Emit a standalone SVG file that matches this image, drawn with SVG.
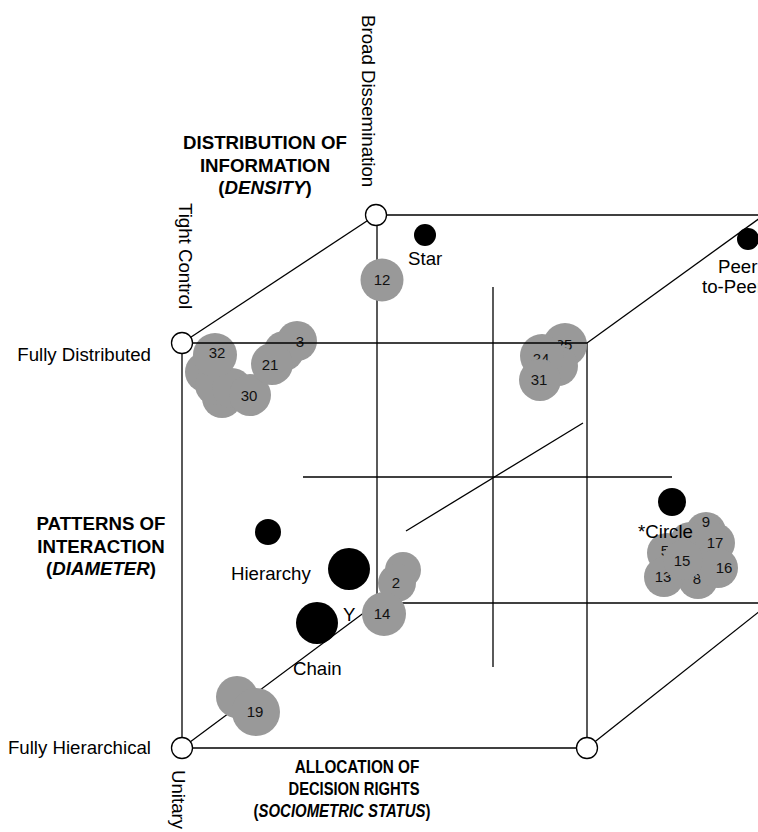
<svg xmlns="http://www.w3.org/2000/svg" width="758" height="832" viewBox="0 0 758 832">
<style>
.ln{stroke:#000;stroke-width:1.3;fill:none}
.oc{fill:#fff;stroke:#000;stroke-width:1.3}
.g{fill:#999}
.b{fill:#000}
.t{font-family:"Liberation Sans",Arial,sans-serif;font-size:18.67px;fill:#000}
.h{font-family:"Liberation Sans",Arial,sans-serif;font-size:18.67px;font-weight:bold;fill:#000;text-anchor:middle}
.n{font-family:"Liberation Sans",Arial,sans-serif;font-size:15px;fill:#111;text-anchor:middle}
</style>
<rect width="758" height="832" fill="#fff"/>
<g id="connectors">
<line class="ln" x1="182" y1="343" x2="182" y2="748"/>
<line class="ln" x1="182" y1="748" x2="587" y2="748"/>
<line class="ln" x1="587" y1="343" x2="587" y2="748"/>
<line class="ln" x1="376" y1="215" x2="770" y2="215"/>
<line class="ln" x1="377" y1="215" x2="377" y2="603"/>
<line class="ln" x1="377" y1="603" x2="770" y2="603"/>
<line class="ln" x1="182" y1="343" x2="376" y2="215"/>
<line class="ln" x1="587" y1="343" x2="764" y2="215"/>
<line class="ln" x1="182" y1="748" x2="377" y2="603"/>
<line class="ln" x1="587" y1="748" x2="770" y2="603"/>
<line class="ln" x1="493" y1="287" x2="493" y2="667"/>
<line class="ln" x1="303" y1="477" x2="672" y2="477"/>
<line class="ln" x1="406" y1="531" x2="583" y2="423"/>
</g>
<g id="axis-labels">
<text class="t" transform="translate(362,15) rotate(90)">Broad Dissemination</text>
<text class="t" transform="translate(179,203) rotate(90)">Tight Control</text>
<text class="t" transform="translate(172,770) rotate(90)">Unitary</text>
<text class="t" x="151" y="361" text-anchor="end">Fully Distributed</text>
<text class="t" x="151" y="754" text-anchor="end">Fully Hierarchical</text>
</g>
<g id="dim-density">
<text class="h" x="265" y="149">DISTRIBUTION OF</text>
<text class="h" x="265" y="172">INFORMATION</text>
<text class="h" x="265" y="194">(<tspan font-style="italic">DENSITY</tspan>)</text>
</g>
<g id="dim-diameter">
<text class="h" x="101" y="530">PATTERNS OF</text>
<text class="h" x="101" y="553">INTERACTION</text>
<text class="h" x="101" y="575">(<tspan font-style="italic">DIAMETER</tspan>)</text>
</g>
<g id="dim-status">
<text class="h" transform="translate(357,773) scale(0.82,1)">ALLOCATION OF</text>
<text class="h" transform="translate(354,795) scale(0.79,1)">DECISION RIGHTS</text>
<text class="h" transform="translate(342,817) scale(0.8,1)">(<tspan font-style="italic">SOCIOMETRIC STATUS</tspan>)</text>
</g>
<g id="star"><circle class="b" cx="425" cy="235" r="11"/><text class="t" x="408" y="265">Star</text></g>
<g id="peer"><circle class="b" cx="748" cy="239" r="11"/><text class="t" x="718" y="273">Peer</text><text class="t" x="702" y="293">to-Peer</text></g>
<g id="hierarchy"><circle class="b" cx="268" cy="532" r="13"/><text class="t" x="231" y="580">Hierarchy</text></g>
<g id="big-dot"><circle class="b" cx="349" cy="569" r="21"/></g>
<g id="y"><circle class="b" cx="317" cy="623" r="21"/><text class="t" x="343" y="621">Y</text></g>
<g id="chain"><text class="t" x="293" y="675">Chain</text></g>
<g id="circle"><circle class="b" cx="672" cy="502" r="14"/></g>
<g id="n12"><circle class="g" cx="382" cy="280" r="21.5"/><text class="n" x="382" y="285">12</text></g>
<g id="cluster-a">
<circle class="g" cx="205" cy="372" r="20"/>
<circle class="g" cx="222" cy="398" r="20"/>
<circle class="g" cx="215" cy="385" r="20"/>
<circle class="g" cx="232" cy="388" r="20"/>
<circle class="g" cx="215" cy="355" r="22"/><text class="n" x="217" y="358">32</text>
<circle class="g" cx="250" cy="395" r="21"/><text class="n" x="249" y="401">30</text>
<circle class="g" cx="284" cy="351" r="20"/>
<circle class="g" cx="297" cy="341" r="20"/><text class="n" x="300" y="347">3</text>
<circle class="g" cx="272" cy="364" r="21"/><text class="n" x="270" y="370">21</text>
</g>
<g id="cluster-b">
<circle class="g" cx="565" cy="345" r="22"/><text class="n" x="564" y="350">25</text>
<circle class="g" cx="558" cy="366" r="20"/>
<circle class="g" cx="542" cy="356" r="22"/><text class="n" x="541" y="364">24</text>
<circle class="g" cx="540" cy="380" r="21"/><text class="n" x="539" y="385">31</text>
</g>
<g id="cluster-c">
<circle class="g" cx="706" cy="532" r="20"/>
<circle class="g" cx="690" cy="542" r="20"/>
<circle class="g" cx="715" cy="543" r="20"/><text class="n" x="715" y="548">17</text>
<text class="n" x="706" y="527">9</text>
<circle class="g" cx="667" cy="553" r="20"/><text class="n" x="665" y="556">5</text>
<circle class="g" cx="698" cy="579" r="20"/><text class="n" x="697" y="584">8</text>
<circle class="g" cx="718" cy="568" r="20"/><text class="n" x="724" y="573">16</text>
<circle class="g" cx="664" cy="577" r="20"/><text class="n" x="663" y="582">13</text>
<circle class="g" cx="683" cy="560" r="20"/><text class="n" x="682" y="566">15</text>
</g>
<g id="circle-label"><text class="t" x="638" y="538">*Circle</text></g>
<g id="cluster-d">
<circle class="g" cx="403" cy="570" r="18"/>
<circle class="g" cx="397" cy="583" r="19"/><text class="n" x="396" y="588">2</text>
<circle class="g" cx="384" cy="614" r="22"/><text class="n" x="382" y="619">14</text>
</g>
<g id="cluster-e">
<circle class="g" cx="237" cy="697" r="21"/>
<circle class="g" cx="256" cy="712" r="24"/><text class="n" x="255" y="717">19</text>
</g>
<g id="front-top-edge"><line class="ln" x1="182" y1="343" x2="587" y2="343"/></g>
<g id="corner-tl"><circle class="oc" cx="182" cy="343" r="10.5"/></g>
<g id="corner-back"><circle class="oc" cx="376" cy="215" r="10.5"/></g>
<g id="corner-bl"><circle class="oc" cx="182" cy="748" r="10.5"/></g>
<g id="corner-br"><circle class="oc" cx="587" cy="748" r="10.5"/></g>
</svg>
